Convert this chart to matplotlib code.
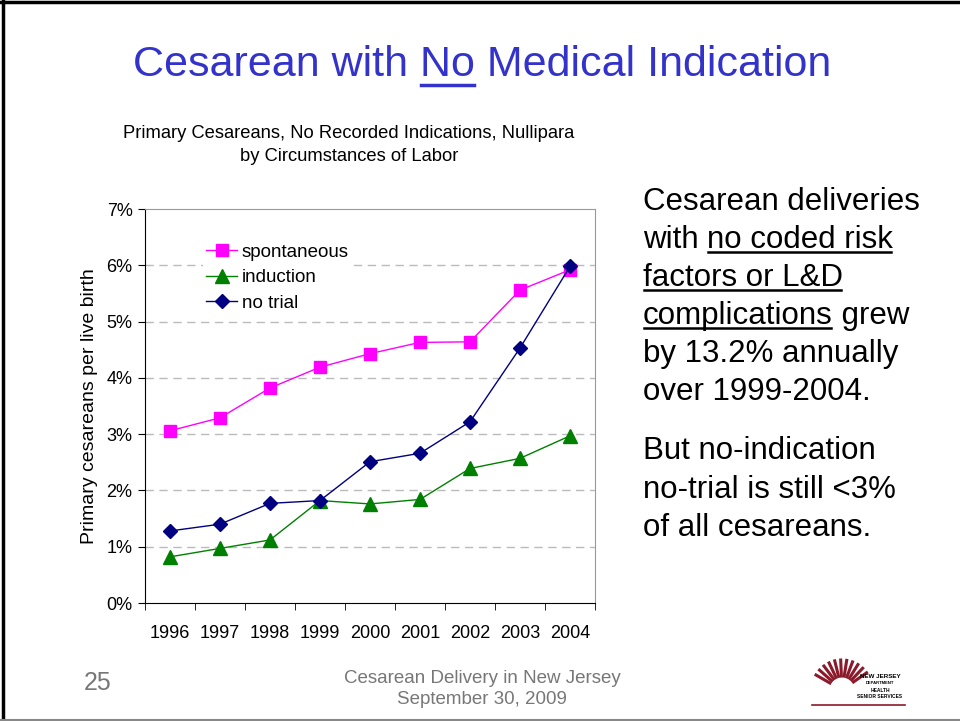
import matplotlib.pyplot as plt
import numpy as np

plt.rcParams['font.family'] = ['Liberation Sans', 'DejaVu Sans']

# --- data ---
years = ['1996', '1997', '1998', '1999', '2000', '2001', '2002', '2003', '2004']
spontaneous = [3.06, 3.29, 3.82, 4.19, 4.43, 4.63, 4.64, 5.56, 5.92]
induction = [0.82, 0.97, 1.12, 1.82, 1.76, 1.84, 2.39, 2.57, 2.97]
no_trial = [1.28, 1.40, 1.77, 1.82, 2.51, 2.66, 3.22, 4.53, 5.98]
y_ticks = [0, 1, 2, 3, 4, 5, 6, 7]

W, H = 960, 721
fig = plt.figure(figsize=(W / 100, H / 100), dpi=100)


def fx(x):
    return x / W


def fy(y):
    return 1 - y / H


# slide border
fig.add_artist(plt.Line2D([fx(3), fx(3)], [0, 1], color='black', lw=2.5))
fig.add_artist(plt.Line2D([0, 1], [fy(2), fy(2)], color='black', lw=2.5))
fig.add_artist(plt.Line2D([0, 1], [fy(719.5), fy(719.5)], color='#888888', lw=1.5))

# title
title_color = '#3333CC'
title_y = 65
fig.text(fx(482), fy(title_y), 'Cesarean with No Medical Indication', ha='center', va='center',
         fontsize=31, color=title_color)

# chart subtitle
fig.text(fx(349), fy(145), 'Primary Cesareans, No Recorded Indications, Nullipara\nby Circumstances of Labor',
         ha='center', va='center', fontsize=13.2, linespacing=1.5)

# --- the chart ---
ax = fig.add_axes([fx(145), fy(603), fx(450), 394 / H])
x = np.arange(len(years))
ax.plot(x, spontaneous, color='#FF00FF', lw=1, marker='s', markersize=9,
        markeredgecolor='#FF00FF', label='spontaneous', zorder=3)
ax.plot(x, induction, color='#008000', lw=1, marker='^', markersize=10,
        markeredgecolor='#008000', label='induction', zorder=3)
ax.plot(x, no_trial, color='#000080', lw=1, marker='D', markersize=7,
        markeredgecolor='#000080', label='no trial', zorder=4)

ax.set_xlim(-0.5, len(years) - 0.5)
ax.set_ylim(0, 7)
ax.set_yticks(y_ticks)
ax.set_yticklabels([f'{v}%' for v in y_ticks], fontsize=13)
ax.set_xticks(x)
ax.set_xticklabels(years, fontsize=13)
ax.tick_params(axis='x', length=0, pad=16)
ax.set_xticks(np.arange(-0.5, len(years)), minor=True)
ax.tick_params(axis='x', which='minor', length=5, direction='out', color='black')
ax.tick_params(axis='y', length=5, direction='out', pad=4)
for v in y_ticks[1:-1]:
    ax.axhline(v, color='#BBBBBB', lw=1, ls=(0, (6, 4)), zorder=1)
ax.spines['top'].set_color('#999999')
ax.spines['right'].set_color('#999999')
ax.spines['left'].set_color('black')
ax.spines['bottom'].set_color('black')
ax.set_ylabel('Primary cesareans per live birth', fontsize=14, labelpad=6)

leg = ax.legend(loc='upper left', bbox_to_anchor=(0.107, 0.945), fontsize=13.5, frameon=True,
                handlelength=1.65, handletextpad=0.25, labelspacing=0.45, borderpad=0.2)
leg.get_frame().set_edgecolor('none')
leg.get_frame().set_facecolor('white')
leg.get_frame().set_alpha(1)

# --- right-hand text ---
body = [
    [('Cesarean deliveries', False)],
    [('with ', False), ('no coded risk', True)],
    [('factors or L&D', True)],
    [('complications', True), (' grew', False)],
    [('by 13.2% annually', False)],
    [('over 1999-2004.', False)],
    [('But no-indication', False)],
    [('no-trial is still <3%', False)],
    [('of all cesareans.', False)],
]
line_y = [202, 240, 278, 316, 354, 392, 451, 490, 528]
fig.canvas.draw()
renderer = fig.canvas.get_renderer()
for parts, yy in zip(body, line_y):
    xpos = 643
    for txt, under in parts:
        t = fig.text(fx(xpos), fy(yy), txt, ha='left', va='center', fontsize=22.5)
        bb = t.get_window_extent(renderer)
        if under:
            fig.add_artist(plt.Line2D([fx(bb.x0 + 1), fx(bb.x1 - 2)], [fy(yy + 12), fy(yy + 12)],
                                      color='black', lw=1.8))
        xpos = bb.x1

# underline under "No" in the title
pre = fig.text(0, fy(title_y), 'Cesarean with ', ha='left', va='center', fontsize=31, alpha=0)
whole = fig.text(0, fy(title_y), 'Cesarean with No Medical Indication', ha='left', va='center',
                 fontsize=31, alpha=0)
no = fig.text(0, fy(title_y), 'No', ha='left', va='center', fontsize=31, alpha=0)
wb = whole.get_window_extent(renderer)
left = 482 - wb.width / 2
pb = pre.get_window_extent(renderer)
nb = no.get_window_extent(renderer)
x0 = left + pb.width
fig.add_artist(plt.Line2D([fx(x0 + 1), fx(x0 + nb.width - 1)], [fy(85), fy(85)],
                          color=title_color, lw=2.5))

# --- footer ---
fig.text(fx(98), fy(683), '25', ha='center', va='center', fontsize=18, color='#777777')
fig.text(fx(482), fy(689), 'Cesarean Delivery in New Jersey\nSeptember 30, 2009', ha='center',
         va='center', fontsize=13.5, color='#777777', linespacing=1.32)

# logo, roughly
cx, cy = 842, 690
for ang in np.linspace(35, 150, 11):
    a = np.deg2rad(ang)
    fig.add_artist(plt.Line2D([fx(cx + 14 * np.cos(a)), fx(cx + 30 * np.cos(a))],
                              [fy(cy - 14 * np.sin(a)), fy(cy - 30 * np.sin(a))],
                              color='#8B1A2B', lw=2.2))
fig.text(fx(880), fy(676), 'NEW JERSEY', ha='center', va='center', fontsize=4.5, weight='bold')
fig.text(fx(880), fy(683), 'DEPARTMENT', ha='center', va='center', fontsize=3, weight='bold')
fig.text(fx(880), fy(690), 'HEALTH', ha='center', va='center', fontsize=3.5, weight='bold')
fig.text(fx(880), fy(697), 'SENIOR SERVICES', ha='center', va='center', fontsize=3.5, weight='bold')
fig.add_artist(plt.Line2D([fx(812), fx(905)], [fy(705), fy(705)], color='#8B1A2B', lw=1.2))

fig.savefig('out.png', dpi=100)
